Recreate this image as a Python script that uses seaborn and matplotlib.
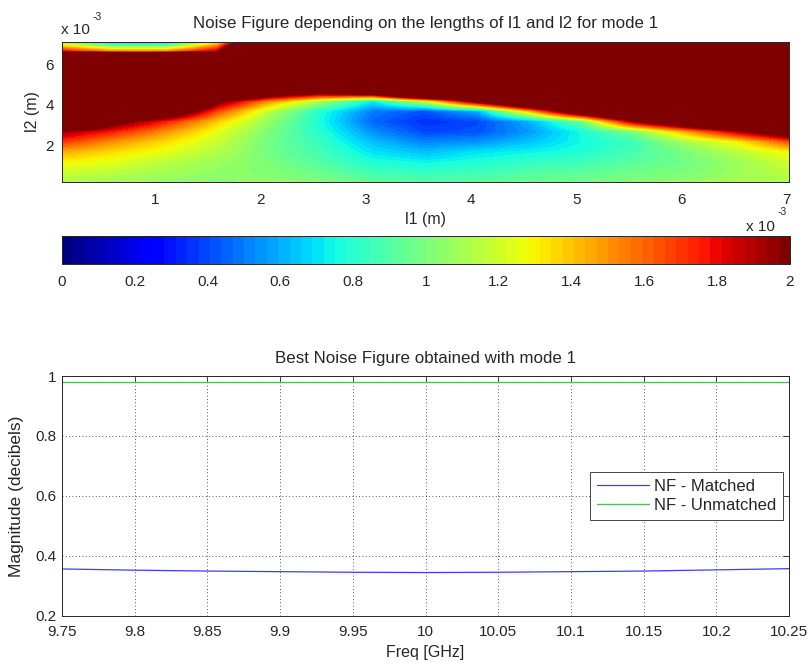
import matplotlib
matplotlib.use("Agg")
import matplotlib.pyplot as plt
import numpy as np
import seaborn as sns

# noise figure map, l1 / l2 in mm (axis shows x 10^-3 m)
l1_mm = [0.12, 0.61, 1.11, 1.60, 2.09, 2.58, 3.08, 3.57, 4.06, 4.56, 5.05, 5.54, 6.03, 6.53, 7.02]
l2_mm = [0.15, 0.65, 1.15, 1.65, 2.15, 2.65, 3.15, 3.65, 4.15, 4.65, 5.15, 5.65, 6.15, 6.65, 7.15]

# rows from l2 = 0.15 (bottom) to l2 = 7.15 (top); values above 2 are saturated
nf_grid = [
    [1.12, 1.08, 1.05, 1.02, 1.05, 1.02, 0.93, 0.91, 0.92, 0.95, 0.97, 1.02, 1.05, 1.10, 1.12],
    [1.20, 1.15, 1.10, 1.05, 1.02, 0.95, 0.86, 0.83, 0.85, 0.90, 0.92, 0.97, 1.00, 1.08, 1.15],
    [1.30, 1.25, 1.15, 1.08, 1.00, 0.90, 0.78, 0.74, 0.78, 0.82, 0.85, 0.92, 0.97, 1.08, 1.20],
    [1.45, 1.35, 1.25, 1.13, 0.98, 0.86, 0.70, 0.63, 0.70, 0.74, 0.78, 0.87, 1.00, 1.15, 1.30],
    [1.70, 1.50, 1.35, 1.18, 0.98, 0.83, 0.63, 0.52, 0.55, 0.64, 0.75, 0.85, 1.10, 1.30, 1.65],
    [1.95, 1.75, 1.50, 1.25, 1.00, 0.79, 0.54, 0.40, 0.42, 0.56, 0.76, 1.00, 1.45, 1.90, 2.30],
    [3.00, 2.10, 1.75, 1.38, 1.05, 0.76, 0.46, 0.35, 0.40, 0.60, 0.95, 1.95, 2.50, 3.10, 3.50],
    [4.25, 3.20, 2.40, 1.65, 1.15, 0.78, 0.50, 0.42, 0.60, 1.40, 2.40, 3.20, 3.75, 4.35, 4.75],
    [5.50, 4.40, 3.70, 2.05, 1.50, 1.10, 0.72, 1.20, 2.10, 2.90, 3.60, 4.40, 5.00, 5.60, 6.00],
    [6.00, 5.60, 5.00, 3.30, 2.50, 2.25, 2.60, 3.80, 3.40, 4.10, 4.90, 5.70, 6.00, 6.00, 6.00],
    [6.00, 6.00, 6.00, 4.50, 3.75, 3.50, 3.75, 5.00, 4.60, 5.40, 6.00, 6.00, 6.00, 6.00, 6.00],
    [6.00, 6.00, 6.00, 6.00, 5.00, 4.75, 5.00, 6.00, 6.00, 6.00, 6.00, 6.00, 6.00, 6.00, 6.00],
    [6.00, 6.00, 6.00, 6.00, 6.00, 6.00, 6.00, 6.00, 6.00, 6.00, 6.00, 6.00, 6.00, 6.00, 6.00],
    [1.80, 1.55, 1.55, 1.90, 5.00, 6.00, 6.00, 6.00, 6.00, 6.00, 6.00, 6.00, 6.00, 6.00, 6.00],
    [1.00, 0.50, 0.50, 1.25, 2.80, 5.00, 5.00, 5.00, 5.00, 5.00, 5.00, 5.00, 5.00, 5.00, 5.00],
]

map_xticks = [1, 2, 3, 4, 5, 6, 7]
map_yticks = [2, 4, 6]
cbar_ticks = [0, 0.2, 0.4, 0.6, 0.8, 1, 1.2, 1.4, 1.6, 1.8, 2]

# best noise figure vs frequency
freq_ghz = [9.75, 9.8, 9.85, 9.9, 9.95, 10.0, 10.05, 10.1, 10.15, 10.2, 10.25]
nf_matched = [0.356, 0.352, 0.349, 0.347, 0.345, 0.344, 0.345, 0.347, 0.349, 0.353, 0.357]
nf_unmatched = [0.981, 0.981, 0.981, 0.981, 0.981, 0.981, 0.981, 0.981, 0.981, 0.981, 0.981]
freq_ticks = [9.75, 9.8, 9.85, 9.9, 9.95, 10.0, 10.05, 10.1, 10.15, 10.2, 10.25]
mag_ticks = [0.2, 0.4, 0.6, 0.8, 1.0]

TICK_FS = 11
LABEL_FS = 11.5
TITLE_FS = 12.2

sns.set_style("white")
plt.rcParams["font.family"] = ["Liberation Sans", "DejaVu Sans"]
plt.rcParams["font.size"] = TICK_FS
plt.rcParams["axes.edgecolor"] = "#262626"
plt.rcParams["axes.linewidth"] = 0.7

W, H = 811, 664
fig = plt.figure(figsize=(W / 100, H / 100), dpi=100)
fig.patch.set_facecolor("white")


def fx(px):
    return px / W


def fy(py):
    return 1 - py / H


ax1 = fig.add_axes([fx(62), fy(182.3), fx(789) - fx(62), (182.3 - 41.7) / H])
cax = fig.add_axes([fx(62), fy(264.3), fx(790) - fx(62), (264.3 - 236) / H])
ax2 = fig.add_axes([fx(62), fy(615.7), fx(789) - fx(62), (615.7 - 376) / H])

# --- top: noise figure map
cmap = plt.get_cmap("jet", 64)
l1 = np.array(l1_mm)
l2 = np.array(l2_mm)
dx = l1[1] - l1[0]
dy = l2[1] - l2[0]
im = ax1.imshow(
    np.array(nf_grid),
    origin="lower",
    aspect="auto",
    cmap=cmap,
    vmin=0,
    vmax=2,
    extent=[l1[0] - dx / 2, l1[-1] + dx / 2, l2[0] - dy / 2, l2[-1] + dy / 2],
    interpolation="bilinear",
    interpolation_stage="data",
)
ax1.set_xlim(l1[0], l1[-1])
ax1.set_ylim(l2[0], l2[-1])
ax1.set_xticks(map_xticks)
ax1.set_yticks(map_yticks)
ax1.set_xticklabels([f"{t:g}" for t in map_xticks])
ax1.set_yticklabels([f"{t:g}" for t in map_yticks])
ax1.tick_params(length=0, labelsize=TICK_FS)
ax1.tick_params(axis="x", pad=8)
ax1.tick_params(axis="y", pad=6)
ax1.set_title("Noise Figure depending on the lengths of l1 and l2 for mode 1",
              fontsize=TITLE_FS, y=1.126, va="center", pad=0)
ax1.set_xlabel("l1 (m)", fontsize=LABEL_FS)
ax1.xaxis.set_label_coords(0.5, -0.268)
ax1.xaxis.label.set_va("center")
ax1.set_ylabel("l2 (m)", fontsize=LABEL_FS)
ax1.yaxis.set_label_coords(-0.041, 0.5)
ax1.yaxis.label.set_va("center")

# exponent labels
fig.text(fx(61), fy(30), "x 10", ha="left", va="center", fontsize=TICK_FS)
fig.text(fx(93), fy(17), "-3", ha="left", va="center", fontsize=7.5)
fig.text(fx(746), fy(227), "x 10", ha="left", va="center", fontsize=TICK_FS)
fig.text(fx(778), fy(212), "-3", ha="left", va="center", fontsize=7.5)

cb = fig.colorbar(im, cax=cax, orientation="horizontal", ticks=cbar_ticks)
cb.ax.set_xticklabels([f"{t:g}" for t in cbar_ticks])
cb.ax.tick_params(axis="x", direction="in", top=True, bottom=True, length=4,
                  width=0.6, color="#262626", pad=8, labelsize=TICK_FS)
cb.outline.set_linewidth(0.7)
cb.outline.set_edgecolor("#262626")

# --- bottom: best noise figure
sns.lineplot(x=freq_ghz, y=nf_matched, ax=ax2, color="#3b3bff", lw=0.9,
             label="NF - Matched")
sns.lineplot(x=freq_ghz, y=nf_unmatched, ax=ax2, color="#5cb85c", lw=1.0,
             label="NF - Unmatched")
ax2.set_xlim(9.75, 10.25)
ax2.set_ylim(0.2, 1.0)
ax2.set_xticks(freq_ticks)
ax2.set_xticklabels([f"{t:g}" for t in freq_ticks])
ax2.set_yticks(mag_ticks)
ax2.set_yticklabels([f"{t:g}" for t in mag_ticks])
ax2.tick_params(direction="in", top=True, right=True, length=4.5, width=0.6,
                color="#262626", labelsize=TICK_FS)
ax2.tick_params(axis="x", pad=7)
ax2.tick_params(axis="y", pad=4)
ax2.grid(True, color="#222222", linestyle=(0, (1, 3)), linewidth=0.6)
ax2.set_title("Best Noise Figure obtained with mode 1", fontsize=TITLE_FS,
              y=1.074, va="center", pad=0)
ax2.set_xlabel("Freq [GHz]", fontsize=LABEL_FS)
ax2.xaxis.set_label_coords(0.5, -0.155)
ax2.xaxis.label.set_va("center")
ax2.set_ylabel("Magnitude (decibels)", fontsize=12.5)
ax2.yaxis.set_label_coords(-0.0623, 0.5)
ax2.yaxis.label.set_va("center")

leg = ax2.legend(loc="upper right", bbox_to_anchor=(0.992, 0.6), borderaxespad=0,
                 fancybox=False, framealpha=1, edgecolor="#444444",
                 handlelength=3.1, labelspacing=0.22, handletextpad=0.3,
                 borderpad=0.42, fontsize=12)
leg.get_frame().set_linewidth(0.7)

fig.savefig("out.png", dpi=100)
